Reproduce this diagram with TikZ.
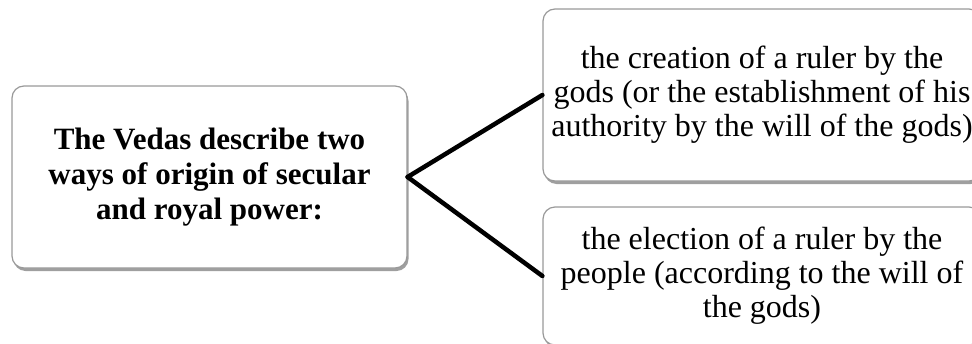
\documentclass[tikz,border=0pt]{standalone}
\usepackage{fontspec}
\setmainfont{Liberation Serif}
\usetikzlibrary{shadows}

\tikzset{
	card/.style={draw=gray!80, line width=1.2pt, fill=white, rounded corners=12pt,
		align=center, inner sep=2pt, font=\fontsize{32}{34}\selectfont,
		drop shadow={shadow xshift=1.5pt, shadow yshift=-3pt, opacity=0.5, fill=black!75}},
	link/.style={line width=4.5pt, line cap=round}
}

\begin{document}
\begin{tikzpicture}[x=1pt,y=-1pt]
		\useasboundingbox (0,0) rectangle (972,343);
		\node[card, minimum width=395pt, minimum height=182pt, font=\fontsize{31}{35}\selectfont\bfseries] (vedas) at (209.5,177) {The Vedas describe two\\ways of origin of secular\\and royal power:};
		
		\node[card, minimum width=438pt, minimum height=172pt] (gods) at (762,95) {the creation of a ruler by the\\gods (or the establishment of his\\authority by the will of the gods)};
		\node[card, minimum width=438pt, minimum height=138pt] (people) at (762,276) {the election of a ruler by the\\people (according to the will of\\the gods)};
		
		\draw[link] (vedas.east) -- (gods.west);
		\draw[link] (vedas.east) -- (people.west);
	\end{tikzpicture}
\end{document}
